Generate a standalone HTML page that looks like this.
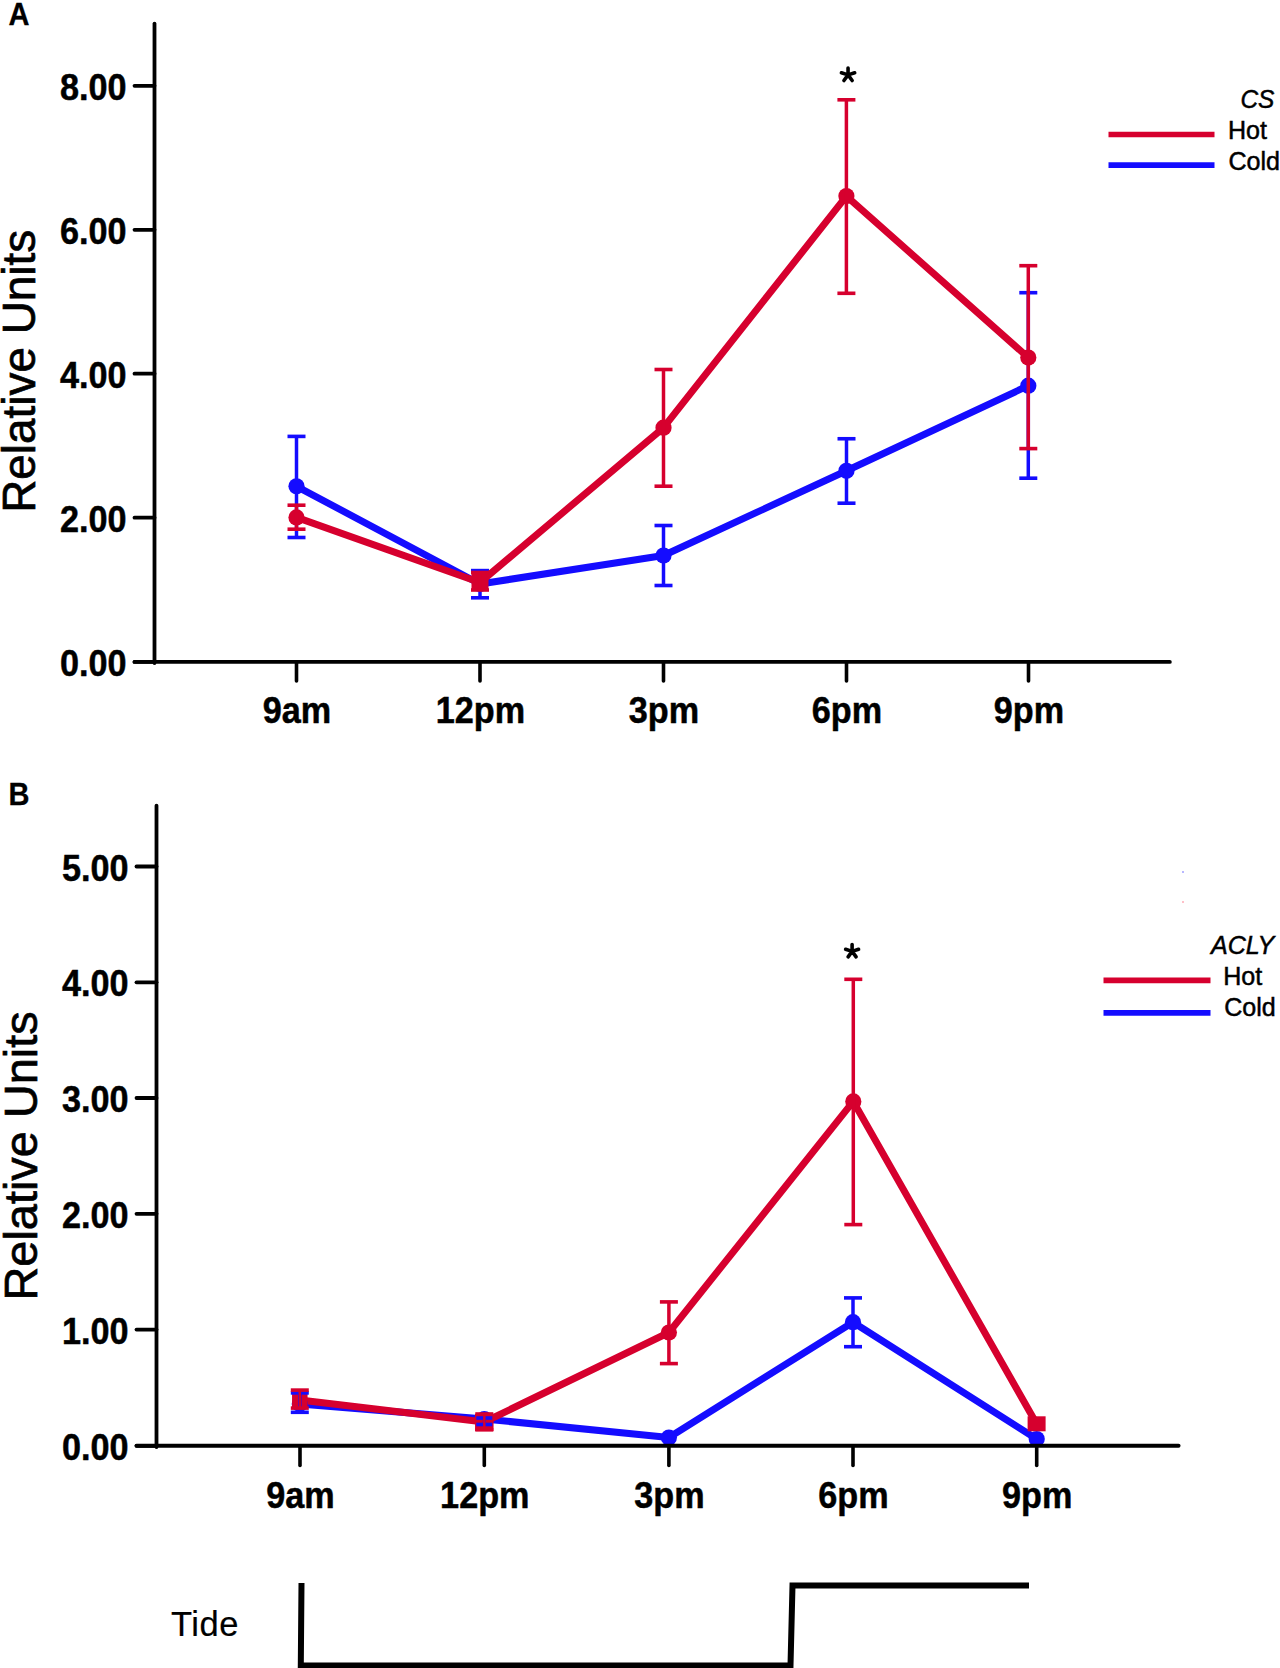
<!DOCTYPE html>
<html><head><meta charset="utf-8"><style>
html,body{margin:0;padding:0;background:#fff;width:1280px;height:1668px;overflow:hidden}
svg{display:block;font-family:"Liberation Sans",sans-serif}
</style></head><body>
<svg width="1280" height="1668" viewBox="0 0 1280 1668">
<rect width="1280" height="1668" fill="#fff"/>
<polyline points="296.5,486.3 480,584 663.5,555.5 846.5,470.8 1028.3,385.7" fill="none" stroke="#140cff" stroke-width="7" stroke-linejoin="round" stroke-linecap="round"/>
<circle cx="296.5" cy="486.3" r="8.1" fill="#140cff"/>
<circle cx="480" cy="584" r="8.1" fill="#140cff"/>
<circle cx="663.5" cy="555.5" r="8.1" fill="#140cff"/>
<circle cx="846.5" cy="470.8" r="8.1" fill="#140cff"/>
<circle cx="1028.3" cy="385.7" r="8.1" fill="#140cff"/>
<line x1="296.5" y1="436.4" x2="296.5" y2="537.5" stroke="#140cff" stroke-width="3.5" stroke-linecap="butt"/>
<line x1="287.5" y1="436.4" x2="305.5" y2="436.4" stroke="#140cff" stroke-width="3.6" stroke-linecap="butt"/>
<line x1="287.5" y1="537.5" x2="305.5" y2="537.5" stroke="#140cff" stroke-width="3.6" stroke-linecap="butt"/>
<line x1="480" y1="570.6" x2="480" y2="597.8" stroke="#140cff" stroke-width="3.5" stroke-linecap="butt"/>
<line x1="471" y1="570.6" x2="489" y2="570.6" stroke="#140cff" stroke-width="3.6" stroke-linecap="butt"/>
<line x1="471" y1="597.8" x2="489" y2="597.8" stroke="#140cff" stroke-width="3.6" stroke-linecap="butt"/>
<line x1="663.5" y1="525.5" x2="663.5" y2="585.5" stroke="#140cff" stroke-width="3.5" stroke-linecap="butt"/>
<line x1="654.5" y1="525.5" x2="672.5" y2="525.5" stroke="#140cff" stroke-width="3.6" stroke-linecap="butt"/>
<line x1="654.5" y1="585.5" x2="672.5" y2="585.5" stroke="#140cff" stroke-width="3.6" stroke-linecap="butt"/>
<line x1="846.5" y1="438.75" x2="846.5" y2="503.2" stroke="#140cff" stroke-width="3.5" stroke-linecap="butt"/>
<line x1="837.5" y1="438.75" x2="855.5" y2="438.75" stroke="#140cff" stroke-width="3.6" stroke-linecap="butt"/>
<line x1="837.5" y1="503.2" x2="855.5" y2="503.2" stroke="#140cff" stroke-width="3.6" stroke-linecap="butt"/>
<line x1="1028.3" y1="292.7" x2="1028.3" y2="478.2" stroke="#140cff" stroke-width="3.5" stroke-linecap="butt"/>
<line x1="1019.3" y1="292.7" x2="1037.3" y2="292.7" stroke="#140cff" stroke-width="3.6" stroke-linecap="butt"/>
<line x1="1019.3" y1="478.2" x2="1037.3" y2="478.2" stroke="#140cff" stroke-width="3.6" stroke-linecap="butt"/>
<polyline points="296.5,517.4 480,582.5 663.5,427.7 846.4,196.1 1028.3,357.6" fill="none" stroke="#d6002e" stroke-width="7" stroke-linejoin="round" stroke-linecap="round"/>
<circle cx="296.5" cy="517.4" r="8.1" fill="#d6002e"/>
<rect x="471.5" y="574" width="17" height="17" fill="#d6002e"/>
<circle cx="663.5" cy="427.7" r="8.1" fill="#d6002e"/>
<circle cx="846.4" cy="196.1" r="8.1" fill="#d6002e"/>
<circle cx="1028.3" cy="357.6" r="8.1" fill="#d6002e"/>
<line x1="296.5" y1="505.2" x2="296.5" y2="529.2" stroke="#d6002e" stroke-width="3.5" stroke-linecap="butt"/>
<line x1="287.5" y1="505.2" x2="305.5" y2="505.2" stroke="#d6002e" stroke-width="3.6" stroke-linecap="butt"/>
<line x1="287.5" y1="529.2" x2="305.5" y2="529.2" stroke="#d6002e" stroke-width="3.6" stroke-linecap="butt"/>
<line x1="480" y1="572.5" x2="480" y2="590" stroke="#d6002e" stroke-width="3.5" stroke-linecap="butt"/>
<line x1="471" y1="572.5" x2="489" y2="572.5" stroke="#d6002e" stroke-width="3.6" stroke-linecap="butt"/>
<line x1="471" y1="590" x2="489" y2="590" stroke="#d6002e" stroke-width="3.6" stroke-linecap="butt"/>
<line x1="663.5" y1="369.5" x2="663.5" y2="486.2" stroke="#d6002e" stroke-width="3.5" stroke-linecap="butt"/>
<line x1="654.5" y1="369.5" x2="672.5" y2="369.5" stroke="#d6002e" stroke-width="3.6" stroke-linecap="butt"/>
<line x1="654.5" y1="486.2" x2="672.5" y2="486.2" stroke="#d6002e" stroke-width="3.6" stroke-linecap="butt"/>
<line x1="846.4" y1="99.8" x2="846.4" y2="293.3" stroke="#d6002e" stroke-width="3.5" stroke-linecap="butt"/>
<line x1="837.4" y1="99.8" x2="855.4" y2="99.8" stroke="#d6002e" stroke-width="3.6" stroke-linecap="butt"/>
<line x1="837.4" y1="293.3" x2="855.4" y2="293.3" stroke="#d6002e" stroke-width="3.6" stroke-linecap="butt"/>
<line x1="1028.3" y1="265.7" x2="1028.3" y2="448.6" stroke="#d6002e" stroke-width="3.5" stroke-linecap="butt"/>
<line x1="1019.3" y1="265.7" x2="1037.3" y2="265.7" stroke="#d6002e" stroke-width="3.6" stroke-linecap="butt"/>
<line x1="1019.3" y1="448.6" x2="1037.3" y2="448.6" stroke="#d6002e" stroke-width="3.6" stroke-linecap="butt"/>
<path d="M848.05,74.9L848.05,67.93M848.05,74.9L854.68,72.75M848.05,74.9L852.15,80.54M848.05,74.9L843.95,80.54M848.05,74.9L841.42,72.75" stroke="#000" stroke-width="3.6" stroke-linecap="round" fill="none"/>
<line x1="154.5" y1="23.6" x2="154.5" y2="663" stroke="#000" stroke-width="3.8" stroke-linecap="round"/>
<line x1="134.5" y1="661.9" x2="1169.8" y2="661.9" stroke="#000" stroke-width="3.9" stroke-linecap="round"/>
<line x1="134.5" y1="85.8" x2="154.5" y2="85.8" stroke="#000" stroke-width="3.8" stroke-linecap="round"/>
<text transform="translate(126.6,99.8) scale(0.925,1)" font-size="37" font-weight="bold" font-style="normal" text-anchor="end" stroke="#000" stroke-width="0.5">8.00</text>
<line x1="134.5" y1="229.8" x2="154.5" y2="229.8" stroke="#000" stroke-width="3.8" stroke-linecap="round"/>
<text transform="translate(126.6,243.8) scale(0.925,1)" font-size="37" font-weight="bold" font-style="normal" text-anchor="end" stroke="#000" stroke-width="0.5">6.00</text>
<line x1="134.5" y1="373.7" x2="154.5" y2="373.7" stroke="#000" stroke-width="3.8" stroke-linecap="round"/>
<text transform="translate(126.6,387.7) scale(0.925,1)" font-size="37" font-weight="bold" font-style="normal" text-anchor="end" stroke="#000" stroke-width="0.5">4.00</text>
<line x1="134.5" y1="517.7" x2="154.5" y2="517.7" stroke="#000" stroke-width="3.8" stroke-linecap="round"/>
<text transform="translate(126.6,531.7) scale(0.925,1)" font-size="37" font-weight="bold" font-style="normal" text-anchor="end" stroke="#000" stroke-width="0.5">2.00</text>
<line x1="134.5" y1="661.9" x2="154.5" y2="661.9" stroke="#000" stroke-width="3.8" stroke-linecap="round"/>
<text transform="translate(126.6,675.9) scale(0.925,1)" font-size="37" font-weight="bold" font-style="normal" text-anchor="end" stroke="#000" stroke-width="0.5">0.00</text>
<line x1="296.5" y1="661.9" x2="296.5" y2="681" stroke="#000" stroke-width="3.6" stroke-linecap="round"/>
<text transform="translate(297,722.6) scale(0.925,1)" font-size="37" font-weight="bold" font-style="normal" text-anchor="middle" stroke="#000" stroke-width="0.5">9am</text>
<line x1="480" y1="661.9" x2="480" y2="681" stroke="#000" stroke-width="3.6" stroke-linecap="round"/>
<text transform="translate(480.5,722.6) scale(0.925,1)" font-size="37" font-weight="bold" font-style="normal" text-anchor="middle" stroke="#000" stroke-width="0.5">12pm</text>
<line x1="663.5" y1="661.9" x2="663.5" y2="681" stroke="#000" stroke-width="3.6" stroke-linecap="round"/>
<text transform="translate(664,722.6) scale(0.925,1)" font-size="37" font-weight="bold" font-style="normal" text-anchor="middle" stroke="#000" stroke-width="0.5">3pm</text>
<line x1="846.5" y1="661.9" x2="846.5" y2="681" stroke="#000" stroke-width="3.6" stroke-linecap="round"/>
<text transform="translate(847,722.6) scale(0.925,1)" font-size="37" font-weight="bold" font-style="normal" text-anchor="middle" stroke="#000" stroke-width="0.5">6pm</text>
<line x1="1028.5" y1="661.9" x2="1028.5" y2="681" stroke="#000" stroke-width="3.6" stroke-linecap="round"/>
<text transform="translate(1029,722.6) scale(0.925,1)" font-size="37" font-weight="bold" font-style="normal" text-anchor="middle" stroke="#000" stroke-width="0.5">9pm</text>
<text transform="translate(34.6,371.3) rotate(-90)" font-size="45.9" text-anchor="middle" stroke="#000" stroke-width="0.7">Relative Units</text>
<line x1="1108.5" y1="134.5" x2="1214.5" y2="134.5" stroke="#d6002e" stroke-width="5.7" stroke-linecap="butt"/>
<line x1="1108.5" y1="165.1" x2="1214.5" y2="165.1" stroke="#140cff" stroke-width="5.7" stroke-linecap="butt"/>
<text transform="translate(1227.9,139.2) scale(0.965,1)" font-size="26" font-weight="normal" font-style="normal" text-anchor="start" stroke="#000" stroke-width="0.5">Hot</text>
<text transform="translate(1228.4,169.9) scale(0.965,1)" font-size="26" font-weight="normal" font-style="normal" text-anchor="start" stroke="#000" stroke-width="0.5">Cold</text>
<text transform="translate(1240.4,107.8) scale(0.94,1)" font-size="26" font-weight="normal" font-style="italic" text-anchor="start" stroke="#000" stroke-width="0.5">CS</text>
<polyline points="299.8,1404 484.3,1419 668.9,1437.5 853,1322.2 1036.7,1439" fill="none" stroke="#140cff" stroke-width="7" stroke-linejoin="round" stroke-linecap="round"/>
<polyline points="299.8,1400 484.3,1422 668.9,1332.5 853.3,1101.4 1036.7,1424" fill="none" stroke="#d6002e" stroke-width="7" stroke-linejoin="round" stroke-linecap="round"/>
<circle cx="299.8" cy="1404" r="8.1" fill="#140cff"/>
<circle cx="484.3" cy="1419" r="8.1" fill="#140cff"/>
<circle cx="668.9" cy="1437.5" r="8.1" fill="#140cff"/>
<circle cx="853" cy="1322.2" r="8.1" fill="#140cff"/>
<circle cx="1036.7" cy="1439" r="8.1" fill="#140cff"/>
<rect x="292.05" y="1393.75" width="15.5" height="14.5" fill="#d6002e"/>
<rect x="475.05" y="1413.75" width="18.5" height="17.3" fill="#d6002e"/>
<circle cx="668.9" cy="1332.5" r="8.1" fill="#d6002e"/>
<circle cx="853.3" cy="1101.4" r="8.1" fill="#d6002e"/>
<rect x="1027.6" y="1416.3" width="18" height="15" fill="#d6002e"/>
<line x1="299.8" y1="1392.9" x2="299.8" y2="1412.3" stroke="#140cff" stroke-width="3.5" stroke-linecap="butt"/>
<line x1="290.8" y1="1392.9" x2="308.8" y2="1392.9" stroke="#140cff" stroke-width="3.6" stroke-linecap="butt"/>
<line x1="290.8" y1="1412.3" x2="308.8" y2="1412.3" stroke="#140cff" stroke-width="3.6" stroke-linecap="butt"/>
<line x1="484.3" y1="1418" x2="484.3" y2="1424.5" stroke="#140cff" stroke-width="3" stroke-linecap="butt"/>
<line x1="476.3" y1="1418" x2="492.3" y2="1418" stroke="#140cff" stroke-width="3.6" stroke-linecap="butt"/>
<line x1="476.3" y1="1424.5" x2="492.3" y2="1424.5" stroke="#140cff" stroke-width="3.6" stroke-linecap="butt"/>
<line x1="853" y1="1297.9" x2="853" y2="1346.7" stroke="#140cff" stroke-width="3.5" stroke-linecap="butt"/>
<line x1="844" y1="1297.9" x2="862" y2="1297.9" stroke="#140cff" stroke-width="3.6" stroke-linecap="butt"/>
<line x1="844" y1="1346.7" x2="862" y2="1346.7" stroke="#140cff" stroke-width="3.6" stroke-linecap="butt"/>
<line x1="299.8" y1="1390.1" x2="299.8" y2="1408.1" stroke="#d6002e" stroke-width="2.5" stroke-linecap="butt"/>
<line x1="290.8" y1="1390.1" x2="308.8" y2="1390.1" stroke="#d6002e" stroke-width="3.6" stroke-linecap="butt"/>
<line x1="290.8" y1="1408.1" x2="308.8" y2="1408.1" stroke="#d6002e" stroke-width="3.6" stroke-linecap="butt"/>
<line x1="484.3" y1="1414" x2="484.3" y2="1429.8" stroke="#d6002e" stroke-width="2.5" stroke-linecap="butt"/>
<line x1="475.3" y1="1414" x2="493.3" y2="1414" stroke="#d6002e" stroke-width="3.6" stroke-linecap="butt"/>
<line x1="475.3" y1="1429.8" x2="493.3" y2="1429.8" stroke="#d6002e" stroke-width="3.6" stroke-linecap="butt"/>
<line x1="668.9" y1="1301.9" x2="668.9" y2="1363.6" stroke="#d6002e" stroke-width="3.5" stroke-linecap="butt"/>
<line x1="659.9" y1="1301.9" x2="677.9" y2="1301.9" stroke="#d6002e" stroke-width="3.6" stroke-linecap="butt"/>
<line x1="659.9" y1="1363.6" x2="677.9" y2="1363.6" stroke="#d6002e" stroke-width="3.6" stroke-linecap="butt"/>
<line x1="853.3" y1="979.3" x2="853.3" y2="1224.6" stroke="#d6002e" stroke-width="3.5" stroke-linecap="butt"/>
<line x1="844.3" y1="979.3" x2="862.3" y2="979.3" stroke="#d6002e" stroke-width="3.6" stroke-linecap="butt"/>
<line x1="844.3" y1="1224.6" x2="862.3" y2="1224.6" stroke="#d6002e" stroke-width="3.6" stroke-linecap="butt"/>
<path d="M852.1,951.4L852.10,944.60M852.1,951.4L858.57,949.30M852.1,951.4L856.10,956.90M852.1,951.4L848.10,956.90M852.1,951.4L845.63,949.30" stroke="#000" stroke-width="3.6" stroke-linecap="round" fill="none"/>
<line x1="156.5" y1="805.7" x2="156.5" y2="1447" stroke="#000" stroke-width="3.8" stroke-linecap="round"/>
<line x1="136.5" y1="1445.8" x2="1178.6" y2="1445.8" stroke="#000" stroke-width="3.9" stroke-linecap="round"/>
<line x1="136.5" y1="866.5" x2="156.5" y2="866.5" stroke="#000" stroke-width="3.8" stroke-linecap="round"/>
<text transform="translate(128.6,880.5) scale(0.925,1)" font-size="37" font-weight="bold" font-style="normal" text-anchor="end" stroke="#000" stroke-width="0.5">5.00</text>
<line x1="136.5" y1="982.3" x2="156.5" y2="982.3" stroke="#000" stroke-width="3.8" stroke-linecap="round"/>
<text transform="translate(128.6,996.3) scale(0.925,1)" font-size="37" font-weight="bold" font-style="normal" text-anchor="end" stroke="#000" stroke-width="0.5">4.00</text>
<line x1="136.5" y1="1098" x2="156.5" y2="1098" stroke="#000" stroke-width="3.8" stroke-linecap="round"/>
<text transform="translate(128.6,1112) scale(0.925,1)" font-size="37" font-weight="bold" font-style="normal" text-anchor="end" stroke="#000" stroke-width="0.5">3.00</text>
<line x1="136.5" y1="1213.8" x2="156.5" y2="1213.8" stroke="#000" stroke-width="3.8" stroke-linecap="round"/>
<text transform="translate(128.6,1227.8) scale(0.925,1)" font-size="37" font-weight="bold" font-style="normal" text-anchor="end" stroke="#000" stroke-width="0.5">2.00</text>
<line x1="136.5" y1="1329.6" x2="156.5" y2="1329.6" stroke="#000" stroke-width="3.8" stroke-linecap="round"/>
<text transform="translate(128.6,1343.6) scale(0.925,1)" font-size="37" font-weight="bold" font-style="normal" text-anchor="end" stroke="#000" stroke-width="0.5">1.00</text>
<line x1="136.5" y1="1445.8" x2="156.5" y2="1445.8" stroke="#000" stroke-width="3.8" stroke-linecap="round"/>
<text transform="translate(128.6,1459.8) scale(0.925,1)" font-size="37" font-weight="bold" font-style="normal" text-anchor="end" stroke="#000" stroke-width="0.5">0.00</text>
<line x1="300" y1="1445.8" x2="300" y2="1465.5" stroke="#000" stroke-width="3.6" stroke-linecap="round"/>
<text transform="translate(300.5,1507.8) scale(0.925,1)" font-size="37" font-weight="bold" font-style="normal" text-anchor="middle" stroke="#000" stroke-width="0.5">9am</text>
<line x1="484.3" y1="1445.8" x2="484.3" y2="1465.5" stroke="#000" stroke-width="3.6" stroke-linecap="round"/>
<text transform="translate(484.8,1507.8) scale(0.925,1)" font-size="37" font-weight="bold" font-style="normal" text-anchor="middle" stroke="#000" stroke-width="0.5">12pm</text>
<line x1="668.9" y1="1445.8" x2="668.9" y2="1465.5" stroke="#000" stroke-width="3.6" stroke-linecap="round"/>
<text transform="translate(669.4,1507.8) scale(0.925,1)" font-size="37" font-weight="bold" font-style="normal" text-anchor="middle" stroke="#000" stroke-width="0.5">3pm</text>
<line x1="853" y1="1445.8" x2="853" y2="1465.5" stroke="#000" stroke-width="3.6" stroke-linecap="round"/>
<text transform="translate(853.5,1507.8) scale(0.925,1)" font-size="37" font-weight="bold" font-style="normal" text-anchor="middle" stroke="#000" stroke-width="0.5">6pm</text>
<line x1="1036.7" y1="1445.8" x2="1036.7" y2="1465.5" stroke="#000" stroke-width="3.6" stroke-linecap="round"/>
<text transform="translate(1037.2,1507.8) scale(0.925,1)" font-size="37" font-weight="bold" font-style="normal" text-anchor="middle" stroke="#000" stroke-width="0.5">9pm</text>
<text transform="translate(37.2,1155.9) rotate(-90)" font-size="46.9" text-anchor="middle" stroke="#000" stroke-width="0.7">Relative Units</text>
<line x1="1103.5" y1="980.3" x2="1210.5" y2="980.3" stroke="#d6002e" stroke-width="5.7" stroke-linecap="butt"/>
<line x1="1103.5" y1="1012.8" x2="1210.5" y2="1012.8" stroke="#140cff" stroke-width="5.7" stroke-linecap="butt"/>
<text transform="translate(1223.2,985.2) scale(0.965,1)" font-size="26" font-weight="normal" font-style="normal" text-anchor="start" stroke="#000" stroke-width="0.5">Hot</text>
<text transform="translate(1224.2,1015.9) scale(0.965,1)" font-size="26" font-weight="normal" font-style="normal" text-anchor="start" stroke="#000" stroke-width="0.5">Cold</text>
<text transform="translate(1211,953.9) scale(0.965,1)" font-size="26" font-weight="normal" font-style="italic" text-anchor="start" stroke="#000" stroke-width="0.5">ACLY</text>
<rect x="1182" y="871" width="2" height="2" fill="#b8b8ff"/>
<rect x="1182" y="901" width="2" height="2" fill="#ffc0c8"/>
<text transform="translate(8.6,25) scale(0.95,1)" font-size="30.6" font-weight="bold" font-style="normal" text-anchor="start" stroke="#000" stroke-width="0.3">A</text>
<text transform="translate(8.4,804.6) scale(0.95,1)" font-size="30.6" font-weight="bold" font-style="normal" text-anchor="start" stroke="#000" stroke-width="0.3">B</text>
<text x="171" y="1635.7" font-size="34.5" letter-spacing="0.5" stroke="#000" stroke-width="0.2">Tide</text>
<polyline points="301.5,1583 300.8,1665.5 790.5,1665.5 792.5,1585.5 1029,1585.5" fill="none" stroke="#000" stroke-width="6" stroke-linejoin="miter"/>
</svg>
</body></html>
